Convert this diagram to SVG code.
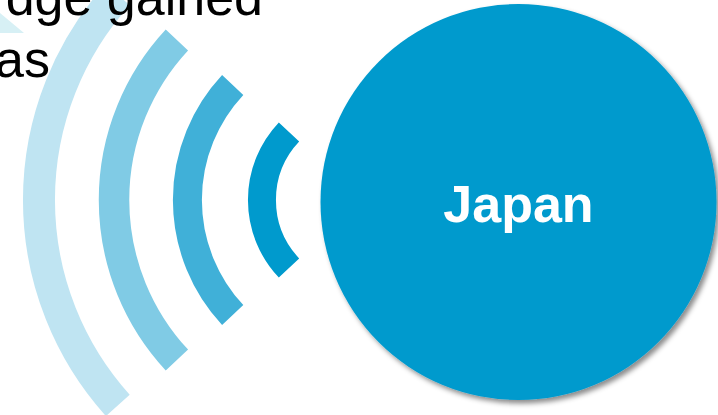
<svg xmlns="http://www.w3.org/2000/svg" width="718" height="415" viewBox="0 0 718 415">
  <defs>
    <style>
      .arc { fill: none; stroke-linecap: butt; }
      .label { font-family: "Liberation Sans", Arial, sans-serif; font-size: 52px; }
    </style>
    <filter id="shadow" x="-10%" y="-10%" width="125%" height="125%">
      <feDropShadow dx="3" dy="3.5" stdDeviation="2.5" flood-color="#000" flood-opacity="0.45"/>
    </filter>
  </defs>
  <rect width="718" height="415" fill="#ffffff"/>
  <polygon points="0,13 24,33 0,33" fill="#d7f0f5"/>
  <g id="waves">
    <path class="arc" d="M 117.8 -5.4 A 307 307 0 0 0 117.8 405.4" stroke="#bfe4f2" stroke-width="32"/>
    <path class="arc" d="M 176.9 40 A 235 235 0 0 0 176.9 360" stroke="#80cbe5" stroke-width="30.5"/>
    <path class="arc" d="M 232.7 85 A 168.6 168.6 0 0 0 232.7 315" stroke="#40b0d8" stroke-width="29"/>
    <path class="arc" d="M 289 132 A 99 99 0 0 0 289 268" stroke="#009acd" stroke-width="28"/>
  </g>
  <g id="caption">
    <text class="label" x="263" y="15" text-anchor="end" fill="#000000">dge gained</text>
    <text class="label" x="50" y="77" text-anchor="end" fill="#000000">as</text>
  </g>
  <g id="japan">
    <circle cx="518.5" cy="202" r="198" fill="#009acd" filter="url(#shadow)"/>
    <text class="label" x="518.5" y="222" text-anchor="middle" font-weight="bold" fill="#ffffff">Japan</text>
  </g>
  <g id="connectors"/>
</svg>
